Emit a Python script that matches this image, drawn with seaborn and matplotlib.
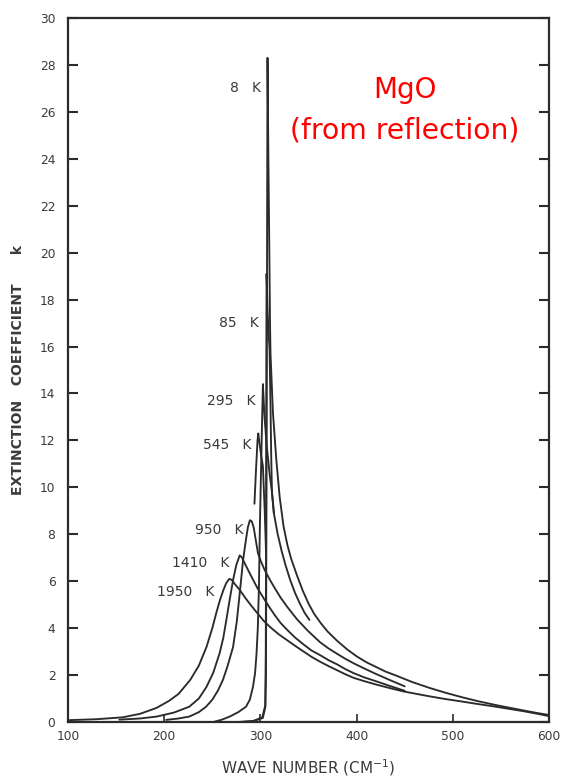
import matplotlib
matplotlib.use("Agg")
import matplotlib.pyplot as plt
import seaborn as sns
import pandas as pd

# ---- data (wave number cm^-1, extinction coefficient k) ----
wn_8K = [275, 292, 302.5, 305.2, 305.8, 306.2, 306.8, 307.4, 308.3, 309.3, 310.0, 310.5,
         313, 316.5, 320, 324, 328, 332, 338, 344, 350, 356, 363, 370, 380, 390, 400,
         410, 420, 430, 441, 458, 476, 493, 510, 527, 545, 560, 575, 588, 600]
k_8K = [0.0, 0.03, 0.17, 0.65, 2.0, 8.0, 18.0, 28.3, 24.0, 20.0, 17.0, 15.7,
        13.2, 11.2, 9.6, 8.35, 7.55, 6.95, 6.25, 5.6, 5.05, 4.6, 4.2, 3.85, 3.45, 3.1, 2.8,
        2.55, 2.35, 2.15, 1.98, 1.7, 1.45, 1.24, 1.05, 0.88, 0.72, 0.6, 0.48, 0.38, 0.3]

wn_85K = [280, 293, 302, 305, 305.6, 306.0, 306.4, 307.5, 308.6, 309.5, 310.5, 311.3,
          312, 314, 318, 322, 326, 331, 336, 341, 346, 351]
k_85K = [0.0, 0.05, 0.2, 0.7, 3.0, 10.0, 19.1, 17.5, 16.5, 15.9, 13.5, 11.2,
         9.8, 8.9, 8.0, 7.3, 6.7, 6.05, 5.5, 5.05, 4.65, 4.35]

wn_295K = [251, 260, 268, 277, 285, 289, 292.3, 294.5, 296, 297.3, 298.5, 299.4, 300.3,
           301.2, 302.0, 302.6, 303.3, 304.3, 306.5, 309.5, 312, 314]
k_295K = [0.0, 0.1, 0.23, 0.42, 0.65, 0.95, 1.5, 2.1, 2.93, 4.0, 5.8, 8.2, 10.0,
          11.8, 13.3, 14.4, 13.8, 13.0, 11.8, 10.6, 9.8, 8.9]

wn_545K = [293.8, 295.5, 297.0, 297.8, 299.0, 301.0, 302.6, 304.5, 305.8]
k_545K = [9.3, 10.8, 12.0, 12.3, 11.9, 11.3, 10.9, 9.0, 7.3]

wn_950K = [202, 215, 226, 236, 243.5, 250, 256, 261, 266, 271.6, 275.5, 279.2, 282,
           284.9, 287, 289.1, 291, 293, 295, 297.5, 300.5, 304.4, 310, 315, 321, 328,
           338, 349, 362, 371, 380, 388, 397, 408, 420, 435, 450]
k_950K = [0.09, 0.15, 0.23, 0.42, 0.65, 0.95, 1.35, 1.79, 2.4, 3.2, 4.3, 5.76, 6.9,
          7.75, 8.3, 8.6, 8.55, 8.3, 7.8, 7.19, 6.85, 6.48, 6.05, 5.7, 5.3, 4.9,
          4.38, 3.9, 3.4, 3.13, 2.9, 2.7, 2.5, 2.28, 2.05, 1.78, 1.52]

wn_1410K = [153.4, 175, 192, 210, 226, 236, 244, 251, 257.6, 261.5, 264.6, 268, 271.6,
            275, 278.5, 281, 283.7, 290, 297, 304.5, 310, 315, 321, 328, 336, 345, 353,
            362, 371, 380, 388, 397, 408, 420, 435, 450]
k_1410K = [0.1, 0.15, 0.23, 0.4, 0.65, 1.0, 1.5, 2.1, 2.93, 3.6, 4.35, 5.2, 6.05,
           6.7, 7.1, 7.0, 6.76, 6.25, 5.7, 5.2, 4.85, 4.55, 4.22, 3.92, 3.6, 3.3, 3.05,
           2.85, 2.63, 2.45, 2.26, 2.08, 1.9, 1.74, 1.53, 1.33]

wn_1950K = [101.5, 130, 157, 175, 192, 205, 215, 227, 236, 244, 250, 254.5, 258, 261.5,
            264.5, 267.7, 270.5, 273, 279, 285, 291, 297, 303, 310, 319, 329, 337, 345,
            353, 362, 371, 380, 388, 397, 408, 420, 434, 449, 462, 475, 492, 510, 527,
            545, 560, 575, 588, 600]
k_1950K = [0.08, 0.12, 0.2, 0.35, 0.6, 0.9, 1.2, 1.79, 2.4, 3.2, 4.0, 4.7, 5.2, 5.62,
           5.92, 6.1, 6.05, 5.9, 5.6, 5.25, 4.93, 4.63, 4.33, 4.05, 3.74, 3.45, 3.22, 3.0,
           2.78, 2.57, 2.38, 2.2, 2.04, 1.88, 1.74, 1.6, 1.45, 1.3, 1.2, 1.1, 0.98, 0.87, 0.76,
           0.65, 0.55, 0.45, 0.35, 0.25]

curve_names = ["8   K", "85   K", "295   K", "545   K", "950   K", "1410   K", "1950   K"]
curve_wn = [wn_8K, wn_85K, wn_295K, wn_545K, wn_950K, wn_1410K, wn_1950K]
curve_k = [k_8K, k_85K, k_295K, k_545K, k_950K, k_1410K, k_1950K]
label_wn = [300.8, 298.0, 295.1, 290.4, 282.1, 268.2, 252.3]
label_k = [27.0, 17.0, 13.7, 11.8, 8.18, 6.77, 5.54]

x_ticks = [100, 200, 300, 400, 500, 600]
y_ticks = list(range(0, 31, 2))

# ---- figure ----
sns.set_theme(style="white")
plt.rcParams["font.family"] = ["DejaVu Sans"]

fig = plt.figure(figsize=(5.67, 7.78), dpi=100)
ax = fig.add_axes([68 / 567, 1 - 722 / 778, 481 / 567, 704 / 778])

ink = "#2b2b2b"
txt = "#3a3a3a"
for name, xs, ys in zip(curve_names, curve_wn, curve_k):
    df = pd.DataFrame({"wn": xs, "k": ys})
    sns.lineplot(data=df, x="wn", y="k", ax=ax, color=ink, lw=1.35,
                 sort=False, estimator=None)

for name, lx, ly in zip(curve_names, label_wn, label_k):
    ax.text(lx, ly, name, ha="right", va="center", fontsize=10, color=txt)

ax.set_xlim(100, 600)
ax.set_ylim(0, 30)
ax.set_xticks(x_ticks)
ax.set_yticks(y_ticks)
ax.set_xticklabels([str(v) for v in x_ticks])
ax.set_yticklabels([str(v) for v in y_ticks])

for s in ax.spines.values():
    s.set_visible(True)
    s.set_color(ink)
    s.set_linewidth(1.6)

ax.tick_params(axis="y", direction="in", length=7, width=1.5, color=ink,
               right=True, left=True, labelsize=8.8, labelcolor=txt, pad=9)
ax.tick_params(axis="x", direction="in", length=6, width=1.2, color=ink,
               bottom=True, top=False, labelsize=8.8, labelcolor=txt, pad=6)

ax.set_xlabel("WAVE NUMBER (CM$^{-1}$)", fontsize=11, color=txt, labelpad=10)
ax.set_ylabel("EXTINCTION   COEFFICIENT      k", fontsize=10, fontweight="bold",
              color=txt)
ax.yaxis.set_label_coords(-0.09, 0.5)

fig.text(405 / 567, 1 - 90 / 778, "MgO", color="red", fontsize=20,
         ha="center", va="center")
fig.text(405 / 567, 1 - 130 / 778, "(from reflection)", color="red", fontsize=20.3,
         ha="center", va="center")

fig.savefig("out.png", dpi=100, facecolor="white")
